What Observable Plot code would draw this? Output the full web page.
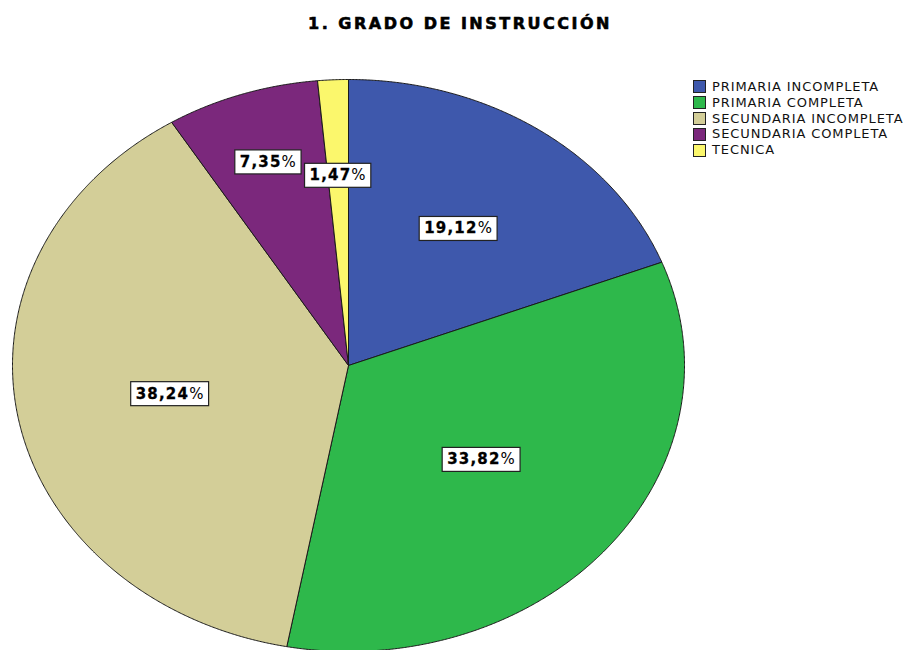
<!DOCTYPE html>
<html><head><meta charset="utf-8">
<script src="https://cdn.jsdelivr.net/npm/d3@7"></script>
<script src="https://cdn.jsdelivr.net/npm/@observablehq/plot@0.6"></script>
<style>
body{margin:0;background:#fff;}
#wrap{position:relative;width:910px;height:650px;overflow:hidden;}
#title{position:absolute;left:0;width:920px;top:14px;text-align:center;font-family:"DejaVu Sans";font-weight:bold;font-size:16px;letter-spacing:2.5px;color:#000;-webkit-text-stroke:0.6px #000;}
#legend{position:absolute;left:693px;top:79px;font-family:"DejaVu Sans",sans-serif;font-size:13px;letter-spacing:0.9px;color:#111;}
.row{height:15.8px;line-height:15.8px;display:flex;align-items:center;white-space:nowrap;}
.sw{width:11px;height:11px;border:1px solid #222;margin-right:6px;flex:none;}
</style></head>
<body>
<div id="wrap">
  <div id="title"></div>
  <div id="legend"></div>
</div>
<script>
const titleText = "1. GRADO DE INSTRUCCIÓN";
const categories = ["PRIMARIA INCOMPLETA", "PRIMARIA COMPLETA", "SECUNDARIA INCOMPLETA", "SECUNDARIA COMPLETA", "TECNICA"];
const percents = [19.12, 33.82, 38.24, 7.35, 1.47];
const labels = ["19,12%", "33,82%", "38,24%", "7,35%", "1,47%"];
const colors = ["#3e58ac", "#2eb84b", "#d3ce98", "#7b287c", "#fbf76c"];

// layout: radial position of each label (fraction of radius)
const labelRadius = [0.58, 0.515, 0.54, 0.75, 0.665];

document.getElementById("title").textContent = titleText;
const legend = document.getElementById("legend");
categories.forEach((c, i) => {
  const row = document.createElement("div"); row.className = "row";
  const sw = document.createElement("div"); sw.className = "sw"; sw.style.background = colors[i];
  const t = document.createElement("span"); t.textContent = c;
  row.appendChild(sw); row.appendChild(t); legend.appendChild(row);
});

const arcs = d3.pie().sort(null).value(d => d.value)(categories.map((c, i) => ({cat: c, value: percents[i], label: labels[i], i})));
const pts = [];
const labs = [];
arcs.forEach(a => {
  const cat = a.data.cat;
  pts.push({cat, x: 0, y: 0});
  const n = Math.max(2, Math.ceil((a.endAngle - a.startAngle) / (Math.PI / 720)));
  for (let k = 0; k <= n; k++) {
    const t = a.startAngle + (a.endAngle - a.startAngle) * k / n;
    pts.push({cat, x: Math.sin(t), y: Math.cos(t)});
  }
  pts.push({cat, x: 0, y: 0});
  const m = (a.startAngle + a.endAngle) / 2, r = labelRadius[a.data.i];
  labs.push({cat, label: a.data.label, x: r * Math.sin(m), y: r * Math.cos(m)});
});

const chart = Plot.plot({
  width: 910, height: 650, margin: 0,
  x: {domain: [-1, 1], range: [12, 684], axis: null},
  y: {domain: [-1, 1], range: [651, 79], axis: null},
  color: {domain: categories, range: colors},
  marks: [
    Plot.line(pts, {x: "x", y: "y", z: "cat", fill: "cat", stroke: "#1a1a1a", strokeWidth: 1, strokeLinejoin: "round"}),
    Plot.text(labs, {x: "x", y: "y", text: "label", fontFamily: "DejaVu Sans", fontWeight: "bold", fontSize: 15, fill: "#000", className: "plabel"})
  ]
});
const wrap = document.getElementById("wrap");
wrap.insertBefore(chart, wrap.firstChild);
chart.style.position = "absolute"; chart.style.left = "0"; chart.style.top = "0";

d3.select(chart).selectAll(".plabel text").each(function() {
  const el = d3.select(this);
  const s = el.text();
  el.text(null).style("letter-spacing", "1.2px").attr("stroke", "#000").attr("stroke-width", 0.3);
  el.append("tspan").text(s.slice(0, -1));
  el.append("tspan").attr("font-weight", "normal").attr("stroke-width", 0).text("%");
  const b = this.getBBox();
  const tr = this.getAttribute("transform");
  const rect = d3.select(this.parentNode).insert("rect", () => this)
    .attr("x", b.x - 5).attr("y", b.y + b.height / 2 - 12)
    .attr("width", b.width + 9).attr("height", 24)
    .attr("fill", "#fff").attr("stroke", "#222").attr("stroke-width", 1.2);
  if (tr) rect.attr("transform", tr);
});
</script>
</body></html>
